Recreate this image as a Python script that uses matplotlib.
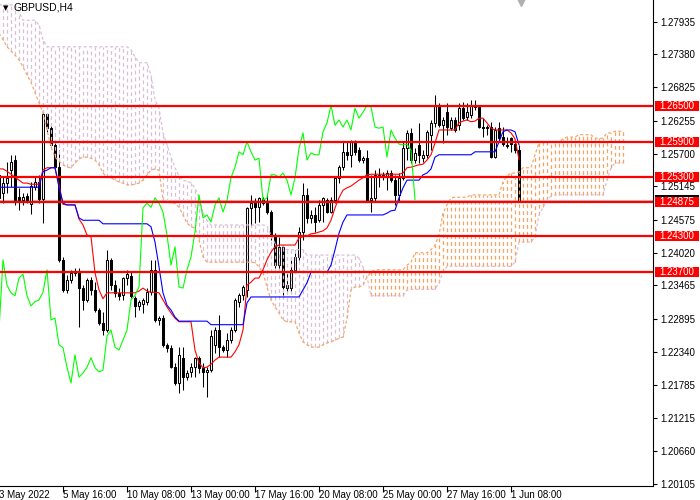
import numpy as np
import matplotlib
matplotlib.use("Agg")
import matplotlib.pyplot as plt
import matplotlib.transforms as mtransforms
from matplotlib.patches import Rectangle

plt.rcParams['font.family'] = ['Liberation Sans', 'DejaVu Sans']
plt.rcParams['font.size'] = 7

symbol = "GBPUSD,H4"

opens = [1.2534, 1.2503, 1.2520, 1.2542, 1.2559, 1.2496, 1.2491, 1.2498, 1.2484, 1.2513,
         1.2522, 1.2493, 1.2637, 1.2613, 1.2585, 1.2547, 1.2390, 1.2339, 1.2356, 1.2368,
         1.2371, 1.2342, 1.2322, 1.2356, 1.2339, 1.2305, 1.2283, 1.2271, 1.2390, 1.2347,
         1.2334, 1.2330, 1.2359, 1.2363, 1.2325, 1.2312, 1.2315, 1.2319, 1.2335, 1.2373,
         1.2288, 1.2291, 1.2246, 1.2241, 1.2208, 1.2181, 1.2224, 1.2191, 1.2200, 1.2208,
         1.2224, 1.2207, 1.2200, 1.2203, 1.2246, 1.2271, 1.2242, 1.2237, 1.2254, 1.2271,
         1.2319, 1.2330, 1.2339, 1.2478, 1.2486, 1.2479, 1.2493, 1.2486, 1.2471, 1.2432,
         1.2381, 1.2412, 1.2347, 1.2342, 1.2373, 1.2395, 1.2437, 1.2500, 1.2461, 1.2466,
         1.2457, 1.2483, 1.2491, 1.2471, 1.2491, 1.2529, 1.2547, 1.2573, 1.2568, 1.2590,
         1.2576, 1.2559, 1.2562, 1.2491, 1.2495, 1.2530, 1.2534, 1.2530, 1.2537, 1.2525,
         1.2500, 1.2529, 1.2579, 1.2605, 1.2559, 1.2585, 1.2562, 1.2568, 1.2602, 1.2622,
         1.2652, 1.2618, 1.2640, 1.2613, 1.2627, 1.2618, 1.2647, 1.2632, 1.2635, 1.2652,
         1.2649, 1.2615, 1.2613, 1.2615, 1.2564, 1.2613, 1.2598, 1.2583, 1.2596, 1.2586,
         1.2576]
highs = [1.2542, 1.2530, 1.2556, 1.2568, 1.2568, 1.2512, 1.2503, 1.2503, 1.2522, 1.2530,
         1.2534, 1.2640, 1.2639, 1.2622, 1.2593, 1.2576, 1.2395, 1.2364, 1.2373, 1.2376,
         1.2376, 1.2347, 1.2359, 1.2361, 1.2352, 1.2308, 1.2302, 1.2407, 1.2393, 1.2356,
         1.2342, 1.2361, 1.2373, 1.2369, 1.2329, 1.2322, 1.2325, 1.2342, 1.2390, 1.2390,
         1.2295, 1.2296, 1.2249, 1.2246, 1.2215, 1.2242, 1.2242, 1.2203, 1.2215, 1.2225,
         1.2227, 1.2215, 1.2208, 1.2271, 1.2276, 1.2296, 1.2246, 1.2266, 1.2276, 1.2325,
         1.2334, 1.2347, 1.2479, 1.2500, 1.2495, 1.2496, 1.2496, 1.2500, 1.2474, 1.2435,
         1.2429, 1.2415, 1.2368, 1.2390, 1.2407, 1.2446, 1.2520, 1.2512, 1.2474, 1.2479,
         1.2491, 1.2496, 1.2495, 1.2496, 1.2530, 1.2551, 1.2590, 1.2590, 1.2593, 1.2593,
         1.2581, 1.2566, 1.2576, 1.2534, 1.2542, 1.2546, 1.2539, 1.2542, 1.2542, 1.2534,
         1.2537, 1.2590, 1.2610, 1.2613, 1.2579, 1.2622, 1.2576, 1.2610, 1.2627, 1.2669,
         1.2656, 1.2632, 1.2656, 1.2632, 1.2632, 1.2656, 1.2657, 1.2656, 1.2661, 1.2661,
         1.2652, 1.2630, 1.2618, 1.2624, 1.2615, 1.2624, 1.2615, 1.2598, 1.2598, 1.2590,
         1.2585]
lows = [1.2479, 1.2486, 1.2503, 1.2513, 1.2483, 1.2474, 1.2483, 1.2486, 1.2468, 1.2508,
        1.2486, 1.2452, 1.2607, 1.2581, 1.2542, 1.2386, 1.2335, 1.2334, 1.2351, 1.2363,
        1.2276, 1.2305, 1.2319, 1.2330, 1.2302, 1.2280, 1.2263, 1.2268, 1.2339, 1.2327,
        1.2322, 1.2322, 1.2347, 1.2325, 1.2293, 1.2305, 1.2300, 1.2313, 1.2330, 1.2285,
        1.2280, 1.2242, 1.2234, 1.2207, 1.2178, 1.2164, 1.2169, 1.2186, 1.2191, 1.2191,
        1.2198, 1.2174, 1.2157, 1.2200, 1.2232, 1.2225, 1.2234, 1.2225, 1.2249, 1.2268,
        1.2310, 1.2322, 1.2327, 1.2446, 1.2452, 1.2454, 1.2483, 1.2468, 1.2424, 1.2376,
        1.2373, 1.2330, 1.2334, 1.2334, 1.2368, 1.2390, 1.2424, 1.2452, 1.2452, 1.2437,
        1.2454, 1.2454, 1.2469, 1.2469, 1.2486, 1.2520, 1.2542, 1.2559, 1.2547, 1.2568,
        1.2556, 1.2554, 1.2488, 1.2471, 1.2488, 1.2513, 1.2525, 1.2508, 1.2522, 1.2483,
        1.2488, 1.2525, 1.2559, 1.2554, 1.2554, 1.2554, 1.2556, 1.2562, 1.2576, 1.2615,
        1.2615, 1.2588, 1.2602, 1.2610, 1.2607, 1.2610, 1.2627, 1.2627, 1.2630, 1.2644,
        1.2613, 1.2598, 1.2602, 1.2562, 1.2562, 1.2590, 1.2583, 1.2579, 1.2573, 1.2571,
        1.2490]
closes = [1.2495, 1.2520, 1.2529, 1.2556, 1.2491, 1.2491, 1.2496, 1.2490, 1.2515, 1.2522,
          1.2493, 1.2637, 1.2613, 1.2585, 1.2547, 1.2390, 1.2339, 1.2356, 1.2368, 1.2371,
          1.2342, 1.2322, 1.2356, 1.2339, 1.2305, 1.2283, 1.2271, 1.2390, 1.2347, 1.2334,
          1.2329, 1.2359, 1.2366, 1.2329, 1.2312, 1.2319, 1.2322, 1.2335, 1.2373, 1.2288,
          1.2291, 1.2246, 1.2241, 1.2208, 1.2181, 1.2229, 1.2191, 1.2198, 1.2208, 1.2224,
          1.2207, 1.2200, 1.2203, 1.2261, 1.2271, 1.2242, 1.2237, 1.2254, 1.2271, 1.2322,
          1.2330, 1.2344, 1.2478, 1.2486, 1.2479, 1.2495, 1.2486, 1.2471, 1.2432, 1.2381,
          1.2412, 1.2344, 1.2342, 1.2373, 1.2395, 1.2437, 1.2500, 1.2461, 1.2466, 1.2454,
          1.2483, 1.2495, 1.2471, 1.2491, 1.2529, 1.2547, 1.2573, 1.2568, 1.2590, 1.2573,
          1.2559, 1.2562, 1.2491, 1.2495, 1.2534, 1.2534, 1.2530, 1.2537, 1.2525, 1.2500,
          1.2529, 1.2579, 1.2605, 1.2559, 1.2571, 1.2568, 1.2568, 1.2607, 1.2622, 1.2652,
          1.2618, 1.2627, 1.2615, 1.2627, 1.2610, 1.2647, 1.2630, 1.2640, 1.2652, 1.2649,
          1.2615, 1.2613, 1.2615, 1.2564, 1.2610, 1.2596, 1.2586, 1.2585, 1.2586, 1.2576,
          1.2492]

tenkan = [1.2544, 1.2544, 1.2540, 1.2535, 1.2530, 1.2525, 1.2520, 1.2520, 1.2518, 1.2518,
          1.2518, 1.2542, 1.2546, 1.2546, 1.2546, 1.2517, 1.2484, 1.2483, 1.2483, 1.2483,
          1.2459, 1.2449, 1.2432, 1.2429, 1.2368, 1.2339, 1.2324, 1.2334, 1.2334, 1.2334,
          1.2334, 1.2334, 1.2334, 1.2334, 1.2334, 1.2337, 1.2342, 1.2337, 1.2335, 1.2335,
          1.2334, 1.2322, 1.2310, 1.2300, 1.2291, 1.2285, 1.2285, 1.2285, 1.2285, 1.2237,
          1.2215, 1.2207, 1.2208, 1.2213, 1.2220, 1.2225, 1.2225, 1.2225, 1.2225, 1.2234,
          1.2246, 1.2271, 1.2347, 1.2352, 1.2359, 1.2359, 1.2373, 1.2390, 1.2403, 1.2412,
          1.2415, 1.2415, 1.2415, 1.2415, 1.2415, 1.2427, 1.2429, 1.2430, 1.2434, 1.2435,
          1.2437, 1.2439, 1.2444, 1.2457, 1.2478, 1.2495, 1.2508, 1.2512, 1.2515, 1.2520,
          1.2525, 1.2529, 1.2534, 1.2535, 1.2535, 1.2535, 1.2535, 1.2535, 1.2535, 1.2535,
          1.2535, 1.2537, 1.2546, 1.2547, 1.2549, 1.2551, 1.2552, 1.2559, 1.2568, 1.2588,
          1.2610, 1.2610, 1.2610, 1.2610, 1.2610, 1.2622, 1.2625, 1.2627, 1.2624, 1.2625,
          1.2630, 1.2630, 1.2622, 1.2613, 1.2610, 1.2610, 1.2610, 1.2610, 1.2605, 1.2595,
          1.2560]
kijun = [1.2513, 1.2513, 1.2513, 1.2513, 1.2513, 1.2513, 1.2513, 1.2513, 1.2513, 1.2513,
         1.2513, 1.2539, 1.2542, 1.2546, 1.2546, 1.2513, 1.2486, 1.2483, 1.2483, 1.2483,
         1.2461, 1.2457, 1.2457, 1.2457, 1.2457, 1.2457, 1.2451, 1.2451, 1.2451, 1.2451,
         1.2451, 1.2451, 1.2451, 1.2451, 1.2451, 1.2451, 1.2451, 1.2451, 1.2446, 1.2420,
         1.2378, 1.2334, 1.2313, 1.2305, 1.2293, 1.2286, 1.2286, 1.2286, 1.2286, 1.2286,
         1.2286, 1.2286, 1.2286, 1.2280, 1.2280, 1.2280, 1.2280, 1.2280, 1.2280, 1.2280,
         1.2280, 1.2280, 1.2317, 1.2327, 1.2327, 1.2327, 1.2327, 1.2327, 1.2327, 1.2327,
         1.2327, 1.2327, 1.2327, 1.2327, 1.2327, 1.2327, 1.2339, 1.2351, 1.2369, 1.2369,
         1.2369, 1.2369, 1.2369, 1.2381, 1.2407, 1.2435, 1.2454, 1.2466, 1.2466, 1.2466,
         1.2466, 1.2466, 1.2466, 1.2466, 1.2466, 1.2466, 1.2466, 1.2469, 1.2473, 1.2474,
         1.2495, 1.2512, 1.2525, 1.2525, 1.2525, 1.2525, 1.2534, 1.2537, 1.2544, 1.2564,
         1.2568, 1.2568, 1.2568, 1.2568, 1.2568, 1.2568, 1.2568, 1.2568, 1.2568, 1.2573,
         1.2573, 1.2573, 1.2573, 1.2573, 1.2573, 1.2590, 1.2607, 1.2610, 1.2610, 1.2607,
         1.2585]
senkou_a = [1.2774, 1.2763, 1.2751, 1.2744, 1.2737, 1.2729, 1.2717, 1.2703, 1.2691, 1.2673,
            1.2656, 1.2639, 1.2610, 1.2581, 1.2564, 1.2557, 1.2551, 1.2547, 1.2546, 1.2554,
            1.2561, 1.2564, 1.2564, 1.2562, 1.2559, 1.2551, 1.2537, 1.2530, 1.2529, 1.2525,
            1.2522, 1.2520, 1.2517, 1.2517, 1.2518, 1.2520, 1.2525, 1.2534, 1.2542, 1.2544,
            1.2542, 1.2491, 1.2488, 1.2486, 1.2486, 1.2479, 1.2466, 1.2452, 1.2446, 1.2444,
            1.2424, 1.2395, 1.2386, 1.2386, 1.2386, 1.2386, 1.2386, 1.2386, 1.2386, 1.2386,
            1.2386, 1.2386, 1.2386, 1.2386, 1.2385, 1.2378, 1.2368, 1.2344, 1.2322, 1.2310,
            1.2300, 1.2288, 1.2285, 1.2285, 1.2285, 1.2266, 1.2251, 1.2246, 1.2242, 1.2242,
            1.2242, 1.2246, 1.2249, 1.2251, 1.2254, 1.2257, 1.2259, 1.2291, 1.2339, 1.2344,
            1.2344, 1.2347, 1.2361, 1.2369, 1.2373, 1.2373, 1.2373, 1.2373, 1.2373, 1.2373,
            1.2373, 1.2373, 1.2381, 1.2386, 1.2402, 1.2402, 1.2402, 1.2402, 1.2407, 1.2415,
            1.2432, 1.2469, 1.2483, 1.2495, 1.2496, 1.2496, 1.2496, 1.2496, 1.2500, 1.2500,
            1.2500, 1.2500, 1.2500, 1.2500, 1.2500, 1.2500, 1.2522, 1.2532, 1.2537, 1.2537,
            1.2539, 1.2546, 1.2546, 1.2546, 1.2568, 1.2588, 1.2590, 1.2590, 1.2590, 1.2590,
            1.2590, 1.2595, 1.2598, 1.2598, 1.2598, 1.2602, 1.2602, 1.2602, 1.2602, 1.2596,
            1.2596, 1.2596, 1.2605, 1.2605, 1.2608, 1.2608, 1.2608]
senkou_b = [1.2822, 1.2822, 1.2822, 1.2822, 1.2822, 1.2810, 1.2796, 1.2796, 1.2796, 1.2796,
            1.2788, 1.2763, 1.2751, 1.2751, 1.2751, 1.2751, 1.2751, 1.2751, 1.2751, 1.2751,
            1.2751, 1.2751, 1.2751, 1.2751, 1.2751, 1.2751, 1.2751, 1.2751, 1.2751, 1.2751,
            1.2751, 1.2751, 1.2751, 1.2746, 1.2734, 1.2724, 1.2724, 1.2724, 1.2703, 1.2661,
            1.2647, 1.2605, 1.2585, 1.2564, 1.2546, 1.2532, 1.2524, 1.2524, 1.2520, 1.2512,
            1.2495, 1.2471, 1.2457, 1.2449, 1.2449, 1.2449, 1.2449, 1.2449, 1.2449, 1.2449,
            1.2449, 1.2449, 1.2449, 1.2449, 1.2449, 1.2449, 1.2449, 1.2447, 1.2432, 1.2418,
            1.2413, 1.2413, 1.2407, 1.2407, 1.2407, 1.2407, 1.2407, 1.2398, 1.2398, 1.2398,
            1.2398, 1.2398, 1.2398, 1.2398, 1.2398, 1.2398, 1.2398, 1.2398, 1.2398, 1.2398,
            1.2393, 1.2378, 1.2361, 1.2329, 1.2329, 1.2329, 1.2329, 1.2329, 1.2329, 1.2329,
            1.2329, 1.2329, 1.2339, 1.2340, 1.2340, 1.2340, 1.2340, 1.2340, 1.2340, 1.2340,
            1.2351, 1.2369, 1.2379, 1.2379, 1.2379, 1.2379, 1.2379, 1.2379, 1.2379, 1.2379,
            1.2379, 1.2379, 1.2379, 1.2379, 1.2379, 1.2379, 1.2379, 1.2379, 1.2379, 1.2386,
            1.2420, 1.2420, 1.2420, 1.2420, 1.2429, 1.2466, 1.2479, 1.2491, 1.2498, 1.2500,
            1.2500, 1.2500, 1.2500, 1.2500, 1.2500, 1.2500, 1.2500, 1.2500, 1.2500, 1.2500,
            1.2500, 1.2500, 1.2525, 1.2546, 1.2554, 1.2554, 1.2554]

level_prices = [1.2650, 1.2590, 1.2530, 1.24875, 1.2430, 1.2370]
level_labels = ["1.26500", "1.25900", "1.25300", "1.24875", "1.24300", "1.23700"]
y_ticks = [1.27935, 1.27380, 1.26825, 1.26255, 1.25700, 1.25145, 1.24575, 1.24020,
           1.23465, 1.22895, 1.22340, 1.21785, 1.21215, 1.20660, 1.20105]
x_labels = ["3 May 2022", "5 May 16:00", "10 May 08:00", "13 May 00:00", "17 May 16:00",
            "20 May 08:00", "25 May 00:00", "27 May 16:00", "1 Jun 08:00"]
bars_per_label = 16
chikou_shift = 26

W, H = 700, 500
fig = plt.figure(figsize=(W / 100, H / 100), dpi=100)
ax = fig.add_axes([0, 14 / H, 653 / W, 486 / H])
ax.set_xlim(0.25, 163.5)
ax.set_ylim(1.20066, 1.28303)
ax.set_facecolor("white")
px_y = (1.28303 - 1.20066) / 486.0

n = len(closes)
x = np.arange(n)
xf = np.arange(len(senkou_a))
o = np.array(opens); h = np.array(highs); l = np.array(lows); c = np.array(closes)

# bid line
ax.axhline(closes[-1], color="#c0c0c0", lw=0.8, zorder=0.5)

# candles
ax.vlines(x, l, h, color="black", lw=0.75, zorder=1)
body_w = 0.5
for i in range(n):
    bottom = min(o[i], c[i])
    height = max(abs(c[i] - o[i]), px_y * 0.6)
    fc = "white" if c[i] >= o[i] else "black"
    ax.add_patch(Rectangle((i - body_w / 2, bottom), body_w, height, facecolor=fc,
                           edgecolor="black", lw=0.75, zorder=2))

# Ichimoku cloud
sa = np.array(senkou_a); sb = np.array(senkou_b)
cols = np.where(sa >= sb, "#F4A460", "#D8BFD8")
ax.vlines(xf, np.minimum(sa, sb), np.maximum(sa, sb), colors=list(cols),
          linestyles=(0, (3, 2.5)), lw=0.9, zorder=3)
ax.plot(xf, sa, color="#F4A460", lw=0.85, ls=(0, (2.5, 2)), zorder=3)
ax.plot(xf, sb, color="#D8BFD8", lw=0.85, ls=(0, (2.5, 2)), zorder=3)

# lines
ax.plot(x, tenkan, color="red", lw=0.8, zorder=4)
ax.plot(x, kijun, color="blue", lw=0.8, zorder=4)
ax.plot(x[:n - chikou_shift], closes[chikou_shift:], color="#00ff00", lw=0.8, zorder=4)

# axes styling
for s in ["left", "top"]:
    ax.spines[s].set_visible(False)
for s in ["right", "bottom"]:
    ax.spines[s].set_color("black")
    ax.spines[s].set_linewidth(0.8)
ax.yaxis.tick_right()
ax.set_yticks(y_ticks)
ax.set_yticklabels([f"{t:.5f}" for t in y_ticks])
ax.tick_params(axis="y", direction="out", length=3, width=0.8, pad=2, labelsize=7)

tick_pos = [k * bars_per_label for k in range(len(x_labels))]
ax.set_xticks([p for p in tick_pos if p >= 0.25])
ax.tick_params(axis="x", direction="out", length=4, width=0.8, labelbottom=False)
tx = mtransforms.blended_transform_factory(ax.transData, ax.transAxes)
for p, lab in zip(tick_pos, x_labels):
    ax.text(p - 0.1, -8.5 / 486, lab, transform=tx, ha="left", va="center", fontsize=7,
            clip_on=False)

# current price label (mostly hidden) and level lines with labels
ty = mtransforms.blended_transform_factory(fig.transFigure, ax.transData)
fig.patches.append(Rectangle((655 / W, closes[-1] - 5 * px_y), 44 / W, 10 * px_y,
                             transform=ty, facecolor="black", edgecolor="none", zorder=5))
for p, lab in zip(level_prices, level_labels):
    ax.axhline(p, color="red", lw=1.6, zorder=6)
    fig.patches.append(Rectangle((655 / W, p - 5 * px_y), 44 / W, 10 * px_y,
                                 transform=ty, facecolor="red", edgecolor="none", zorder=6))
    fig.text(659 / W, p, lab, transform=ty, color="white", ha="left", va="center",
             fontsize=7, zorder=7)

# title and markers
fig.text(14 / W, 1 - 8 / H, symbol, ha="left", va="center", fontsize=7.5)
fig.text(3 / W, 1 - 8 / H, "\u25bc", ha="left", va="center", fontsize=5,
         family=["DejaVu Sans"])
ax.plot([n - 0.6], [1 - 2 / 486], marker="v", ms=6, color="#b0b0b0", transform=tx,
        clip_on=False, zorder=8)

fig.savefig("out.png", dpi=100)
